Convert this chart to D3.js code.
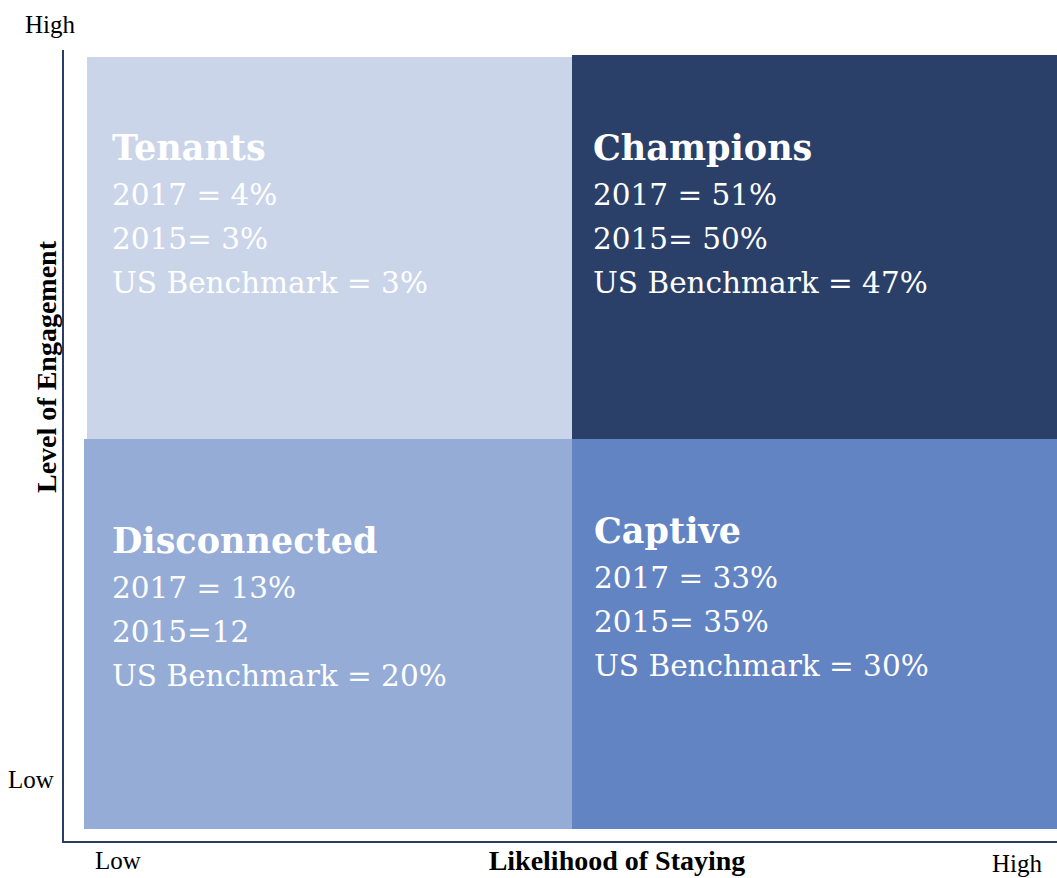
<!DOCTYPE html>
<html>
<head>
<meta charset="utf-8">
<script src="https://cdn.jsdelivr.net/npm/d3@7"></script>
<style>
  html, body { margin: 0; padding: 0; background: #fff; }
  svg { display: block; }
</style>
</head>
<body>
<svg id="chart" width="1057" height="878"></svg>
<script>
// quadrant data
const quadNames = ["Tenants", "Champions", "Disconnected", "Captive"];
const quadStaying = [0, 1, 0, 1];      // 0 = low, 1 = high likelihood of staying
const quadEngagement = [1, 1, 0, 0];   // 0 = low, 1 = high engagement
const quadLines = [
  ["2017 = 4%", "2015= 3%", "US Benchmark = 3%"],
  ["2017 = 51%", "2015= 50%", "US Benchmark = 47%"],
  ["2017 = 13%", "2015=12", "US Benchmark = 20%"],
  ["2017 = 33%", "2015= 35%", "US Benchmark = 30%"]
];
const levelLabels = ["Low", "High"];

const colors = {
  Tenants: "#cbd5e9",
  Champions: "#2a4069",
  Disconnected: "#95acd7",
  Captive: "#6384c3"
};
const axisColor = "#2b3d66";

const svg = d3.select("#chart");

// piecewise scales: edge, split, edge
const x = d3.scaleLinear().domain([0, 1, 2]).range([84, 572, 1057]);
const y = d3.scaleLinear().domain([0, 1, 2]).range([829, 439, 56]);

const quads = quadNames.map((name, i) => ({
  name: name,
  sx: quadStaying[i],
  ey: quadEngagement[i],
  lines: quadLines[i]
}));

// small per-box nudges to mimic the original slide
const titleDrop = {Tenants: 104, Champions: 104, Disconnected: 114, Captive: 104};
const padLeft = {Tenants: 28, Champions: 21, Disconnected: 28, Captive: 22};
const inset = {Tenants: [3, 1], Champions: [0, -1], Disconnected: [0, 0], Captive: [0, 0]};

svg.selectAll("rect.quad")
  .data(quads)
  .join("rect")
  .attr("class", "quad")
  .attr("x", d => x(d.sx) + inset[d.name][0])
  .attr("y", d => y(d.ey + 1) + inset[d.name][1])
  .attr("width", d => x(d.sx + 1) - x(d.sx) - inset[d.name][0])
  .attr("height", d => y(d.ey) - y(d.ey + 1) - inset[d.name][1])
  .attr("fill", d => colors[d.name]);

const labels = svg.selectAll("g.qlabel")
  .data(quads)
  .join("g")
  .attr("class", "qlabel")
  .attr("transform", d => `translate(${x(d.sx) + padLeft[d.name]},${y(d.ey + 1) + titleDrop[d.name]})`);

labels.append("text")
  .attr("font-family", "'DejaVu Serif', serif")
  .attr("font-weight", "bold")
  .attr("font-size", 35)
  .attr("fill", "#fff")
  .text(d => d.name);

labels.each(function (d) {
  d3.select(this).selectAll("text.line")
    .data(d.lines)
    .join("text")
    .attr("class", "line")
    .attr("y", (t, j) => 45 + j * 44)
    .attr("font-family", "'DejaVu Serif', serif")
    .attr("font-size", 29.5)
    .attr("fill", "#fff")
    .text(t => t);
});

// axes lines
svg.append("line")
  .attr("x1", 63).attr("x2", 63)
  .attr("y1", 50).attr("y2", 842)
  .attr("stroke", axisColor).attr("stroke-width", 2);
svg.append("line")
  .attr("x1", 62).attr("x2", 1057)
  .attr("y1", 842).attr("y2", 842)
  .attr("stroke", axisColor).attr("stroke-width", 2);

const tickFont = "'Liberation Serif', 'Times New Roman', serif";

// y end labels
svg.append("text")
  .attr("x", 25).attr("y", 33)
  .attr("font-family", tickFont).attr("font-size", 25)
  .text(levelLabels[1]);
svg.append("text")
  .attr("x", 8).attr("y", 788)
  .attr("font-family", tickFont).attr("font-size", 25)
  .text(levelLabels[0]);

// x end labels
svg.append("text")
  .attr("x", 95).attr("y", 869)
  .attr("font-family", tickFont).attr("font-size", 25)
  .text(levelLabels[0]);
svg.append("text")
  .attr("x", 992).attr("y", 872)
  .attr("font-family", tickFont).attr("font-size", 25)
  .text(levelLabels[1]);

// axis titles
svg.append("text")
  .attr("x", 617).attr("y", 870)
  .attr("text-anchor", "middle")
  .attr("font-family", tickFont).attr("font-weight", "bold").attr("font-size", 28)
  .text("Likelihood of Staying");

svg.append("text")
  .attr("transform", "translate(56,367) rotate(-90)")
  .attr("text-anchor", "middle")
  .attr("font-family", tickFont).attr("font-weight", "bold").attr("font-size", 28)
  .text("Level of Engagement");
</script>
</body>
</html>
